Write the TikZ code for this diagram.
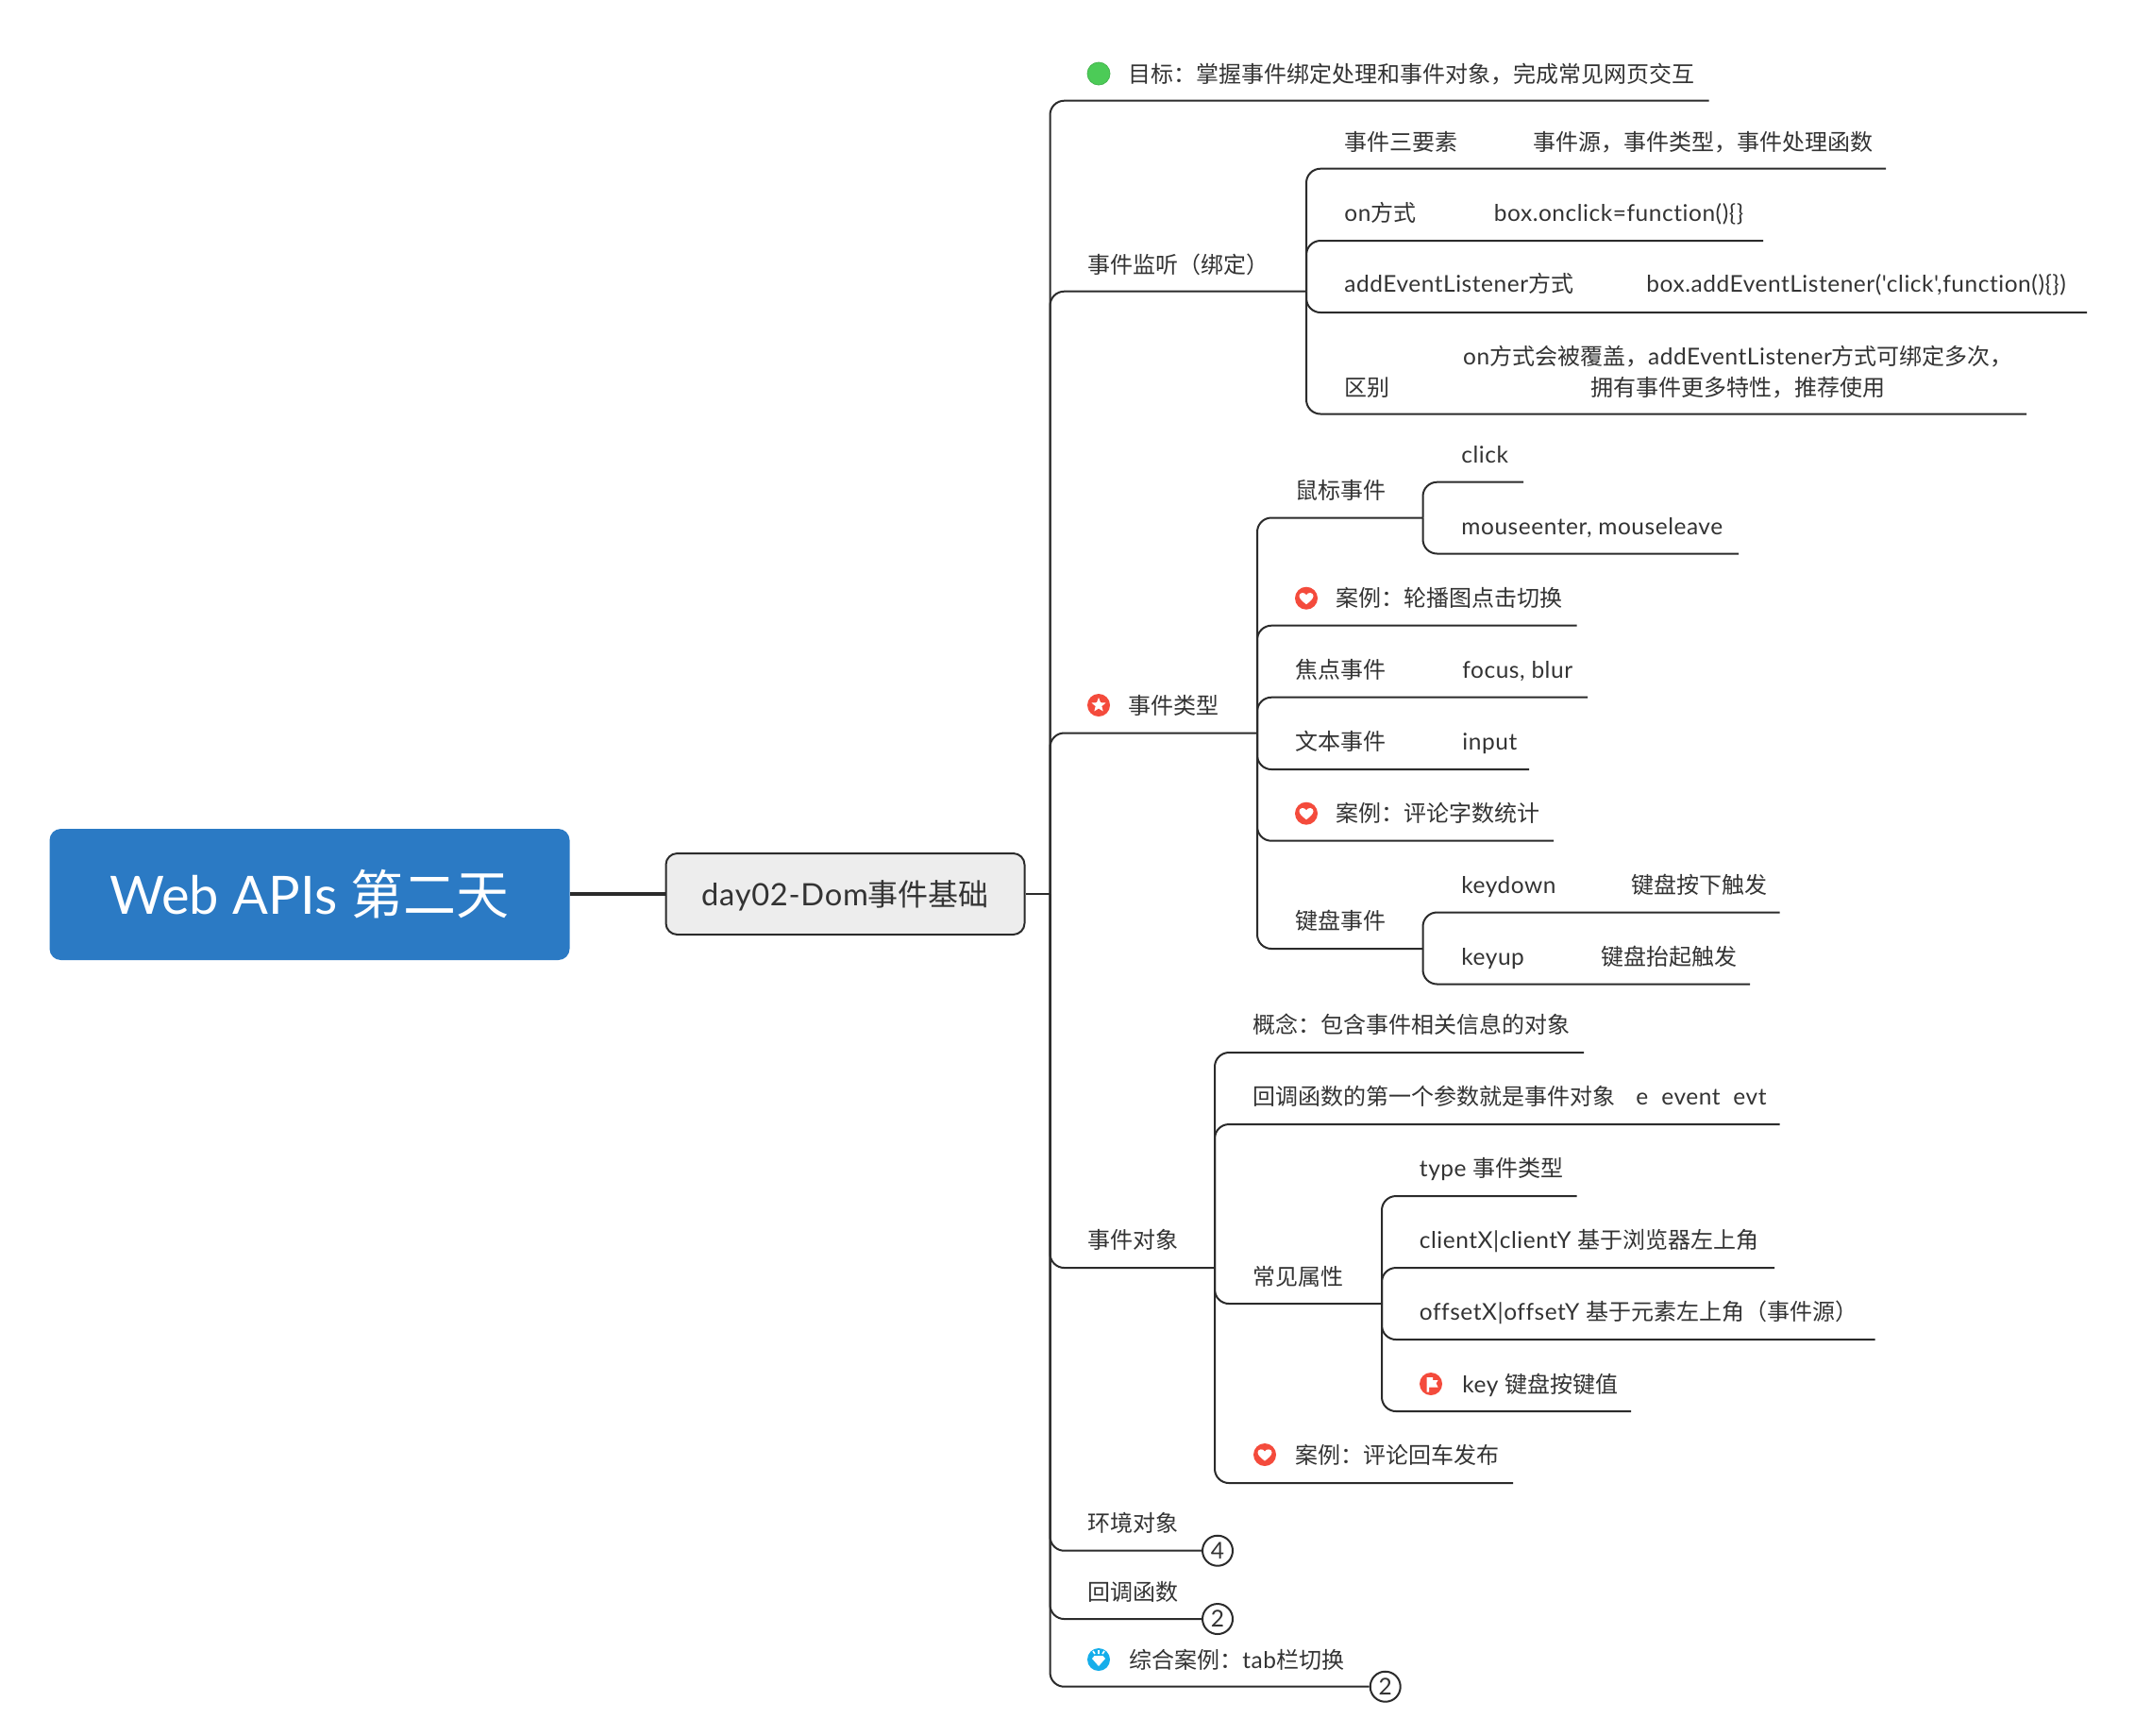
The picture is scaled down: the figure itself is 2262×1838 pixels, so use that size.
\documentclass[tikz,border=0pt]{standalone}
\usepackage{fontspec}
\setmainfont{Lato}[Ligatures={TeXOff,CommonOff},Scale=1.02,LetterSpace=2.2]
\newfontfamily\plainlatin{Lato}
\newfontfamily\cjk{Noto Sans CJK SC}
\newcommand\C[1]{{\cjk #1}}
\usetikzlibrary{shapes.geometric}
\definecolor{ink}{HTML}{2B2B2B}
\definecolor{txt}{HTML}{333333}
\definecolor{rootblue}{HTML}{2B7AC4}
\definecolor{redmark}{HTML}{F44B3C}
\definecolor{greenmark}{HTML}{4CCB57}
\definecolor{greenedge}{HTML}{45B54F}
\definecolor{bluemark}{HTML}{16AEEA}
\tikzset{
  x=0.5pt,y=-0.5pt,
  textlabel/.style={anchor=west,inner sep=0pt,text=txt,font=\fontsize{12}{16.5}\selectfont,text height=10.5pt,text depth=1.5pt},
  wire/.style={draw=ink,line width=1pt,rounded corners=7.5pt},
  rootbox/.style={fill=rootblue,rounded corners=6pt,minimum width=275.5pt,minimum height=69.5pt,inner sep=0pt,text=white,font=\fontsize{28}{32}\selectfont,text height=24.6pt,text depth=3.4pt},
  daybox/.style={draw=ink,line width=1pt,fill=black!7,rounded corners=6pt,minimum width=190pt,minimum height=43pt,inner sep=0pt,text=txt,font=\fontsize{16}{20}\selectfont,text height=14pt,text depth=2pt},
  countbadge/.style={circle,draw=ink,line width=1pt,fill=white,minimum size=16pt,inner sep=0pt,text=txt,font=\fontsize{12}{14}\selectfont},
  iconmark/.style={circle,minimum size=12pt,inner sep=0pt},
  heartmark/.pic={\fill[white] (0,6.5) .. controls (-4,3.5) and (-7.5,0.5) .. (-7.5,-2.5) .. controls (-7.5,-6) and (-2,-7) .. (0,-3.5) .. controls (2,-7) and (7.5,-6) .. (7.5,-2.5) .. controls (7.5,0.5) and (4,3.5) .. (0,6.5) -- cycle;},
  starmark/.pic={\node[star,star points=5,star point ratio=2.3,fill=white,minimum size=8pt,inner sep=0pt] {};},
  flagmark/.pic={\fill[white] (-4.5,-7) -- (2,-7) -- (2,-4) -- (7.5,-4) -- (5.5,-0.5) -- (7.5,3.5) -- (-2,3.5) -- (-2,8.5) -- (-4.5,8.5) -- cycle;},
  gemmark/.pic={\fill[white] (-7,-1) -- (-4.5,-4) -- (4.5,-4) -- (7,-1) -- (0,7) -- cycle;
    \draw[white,line width=0.8pt] (0,-10) -- (0,-6) (-6,-9) -- (-4,-6) (6,-9) -- (4,-6);},
}
\begin{document}
\begin{tikzpicture}
\useasboundingbox (0,0) rectangle (2262,1838);
% root and centre
\node[rootbox] (root) at (328,947.5) {\plainlatin Web APIs \C{第二天}};
\node[daybox] (day) at (895.5,947) {day02-Dom\C{事件基础}};
\draw[draw=ink,line width=2pt] (root.east |- day.west) -- (day.west);
\coordinate (t0) at (1112.5,947);
\draw[wire] (day.east) -- (t0);

% level one
\node[textlabel] (goal) at (1195.5,78) {\C{目标：掌握事件绑定处理和事件对象，完成常见网页交互}};
\node[iconmark,fill=greenmark,draw=greenedge] (mgoal) at (1164,78) {};
\coordinate (egoal) at (1810.5,106.7);
\draw[wire] (t0) |- (egoal);

\node[textlabel] (listen) at (1152,280) {\C{事件监听（绑定）}};
\coordinate (s1) at (1384,308.7);
\draw[wire] (t0) |- (s1);

\node[textlabel] (types) at (1195.5,747) {\C{事件类型}};
\node[iconmark,fill=redmark] (mtypes) at (1164,747) {};
\pic at (mtypes) {starmark};
\coordinate (s2) at (1332,776.5);
\draw[wire] (t0) |- (s2);

\node[textlabel] (obj) at (1152,1313) {\C{事件对象}};
\coordinate (s3) at (1287,1343);
\draw[wire] (t0) |- (s3);

\node[textlabel] (env) at (1152,1613) {\C{环境对象}};
\node[countbadge] (nenv) at (1290,1642.7) {4};
\draw[wire] (t0) |- (nenv.west);

\node[textlabel] (cb) at (1152,1686) {\C{回调函数}};
\node[countbadge] (ncb) at (1290,1715) {2};
\draw[wire] (t0) |- (ncb.west);

\node[textlabel] (tab) at (1196,1758) {\C{综合案例：}tab\C{栏切换}};
\node[iconmark,fill=bluemark] (mtab) at (1164,1758) {};
\pic at (mtab) {gemmark};
\node[countbadge] (ntab) at (1467.7,1786.7) {2};
\draw[wire] (t0) |- (ntab.west);

% event listening
\node[textlabel] (a1) at (1424,150) {\C{事件三要素}};
\node[textlabel] (a1b) at (1624,150) {\C{事件源，事件类型，事件处理函数}};
\coordinate (ea1) at (1998,178.7);
\draw[wire] (s1) |- (ea1);
\node[textlabel] (a2) at (1424,225) {on\C{方式}};
\node[textlabel] (a2b) at (1582.5,225) {box.onclick=function()\{\}};
\coordinate (ea2) at (1868,255);
\draw[wire] (s1) |- (ea2);
\node[textlabel] (a3) at (1424,300) {addEventListener\C{方式}};
\node[textlabel] (a3b) at (1744,300) {box.addEventListener('click',function()\{\})};
\coordinate (ea3) at (2211,331);
\draw[wire] (s1) |- (ea3);
\node[textlabel] (a4) at (1424,410) {\C{区别}};
\node[anchor=center,inner sep=0pt,text=txt,align=center,font=\fontsize{12}{16.5}\selectfont] (a4b) at (1841.5,394)
  {on\C{方式会被覆盖，}addEventListener\C{方式可绑定多次，}\\\C{拥有事件更多特性，推荐使用}};
\coordinate (ea4) at (2147,438.5);
\draw[wire] (s1) |- (ea4);

% event types
\node[textlabel] (b1) at (1372,519.5) {\C{鼠标事件}};
\coordinate (s21) at (1507.5,548.5);
\draw[wire] (s2) |- (s21);
\node[textlabel] (b11) at (1548,481) {click};
\coordinate (eb11) at (1614,510.7);
\draw[wire] (s21) |- (eb11);
\node[textlabel] (b12) at (1548,557) {mouseenter, mouseleave};
\coordinate (eb12) at (1842,586.5);
\draw[wire] (s21) |- (eb12);

\node[textlabel] (b2) at (1415.5,633.7) {\C{案例：轮播图点击切换}};
\node[iconmark,fill=redmark] (mb2) at (1384,633.7) {};
\pic at (mb2) {heartmark};
\coordinate (eb2) at (1670.7,662.7);
\draw[wire] (s2) |- (eb2);

\node[textlabel] (b3) at (1372,709) {\C{焦点事件}};
\node[textlabel] (b3b) at (1549,709) {focus, blur};
\coordinate (eb3) at (1682,738.7);
\draw[wire] (s2) |- (eb3);

\node[textlabel] (b4) at (1372,785) {\C{文本事件}};
\node[textlabel] (b4b) at (1549,785) {input};
\coordinate (eb4) at (1620,815);
\draw[wire] (s2) |- (eb4);

\node[textlabel] (b5) at (1415.5,861.7) {\C{案例：评论字数统计}};
\node[iconmark,fill=redmark] (mb5) at (1384,861.7) {};
\pic at (mb5) {heartmark};
\coordinate (eb5) at (1646,890.7);
\draw[wire] (s2) |- (eb5);

\node[textlabel] (b6) at (1372,975) {\C{键盘事件}};
\coordinate (s26) at (1507.5,1005);
\draw[wire] (s2) |- (s26);
\node[textlabel] (b61) at (1548,937) {keydown};
\node[textlabel] (b61b) at (1728,937) {\C{键盘按下触发}};
\coordinate (eb61) at (1885.5,966.5);
\draw[wire] (s26) |- (eb61);
\node[textlabel] (b62) at (1548,1013) {keyup};
\node[textlabel] (b62b) at (1696,1013) {\C{键盘抬起触发}};
\coordinate (eb62) at (1854,1042.5);
\draw[wire] (s26) |- (eb62);

% event object
\node[textlabel] (c1) at (1327.5,1085) {\C{概念：包含事件相关信息的对象}};
\coordinate (ec1) at (1678,1115);
\draw[wire] (s3) |- (ec1);
\node[textlabel] (c2) at (1327.5,1161) {\C{回调函数的第一个参数就是事件对象}};
\node[textlabel] (c2b) at (1733,1161) {e};
\node[textlabel] (c2c) at (1760,1161) {event};
\node[textlabel] (c2d) at (1836,1161) {evt};
\coordinate (ec2) at (1885.5,1191);
\draw[wire] (s3) |- (ec2);
\node[textlabel] (c3) at (1327.5,1352) {\C{常见属性}};
\coordinate (s33) at (1464,1381);
\draw[wire] (s3) |- (s33);
\node[textlabel] (c31) at (1503.5,1237) {type \C{事件类型}};
\coordinate (ec31) at (1670.5,1267);
\draw[wire] (s33) |- (ec31);
\node[textlabel] (c32) at (1503.5,1313) {clientX|clientY \C{基于浏览器左上角}};
\coordinate (ec32) at (1880,1343);
\draw[wire] (s33) |- (ec32);
\node[textlabel] (c33) at (1503.5,1389) {offsetX|offsetY \C{基于元素左上角（事件源）}};
\coordinate (ec33) at (1986.5,1419);
\draw[wire] (s33) |- (ec33);
\node[textlabel] (c34) at (1549,1466) {key \C{键盘按键值}};
\node[iconmark,fill=redmark] (mc34) at (1516,1466) {};
\pic at (mc34) {flagmark};
\coordinate (ec34) at (1728,1495);
\draw[wire] (s33) |- (ec34);
\node[textlabel] (c4) at (1372,1541.5) {\C{案例：评论回车发布}};
\node[iconmark,fill=redmark] (mc4) at (1340,1541) {};
\pic at (mc4) {heartmark};
\coordinate (ec4) at (1603,1571);
\draw[wire] (s3) |- (ec4);
\end{tikzpicture}
\end{document}
